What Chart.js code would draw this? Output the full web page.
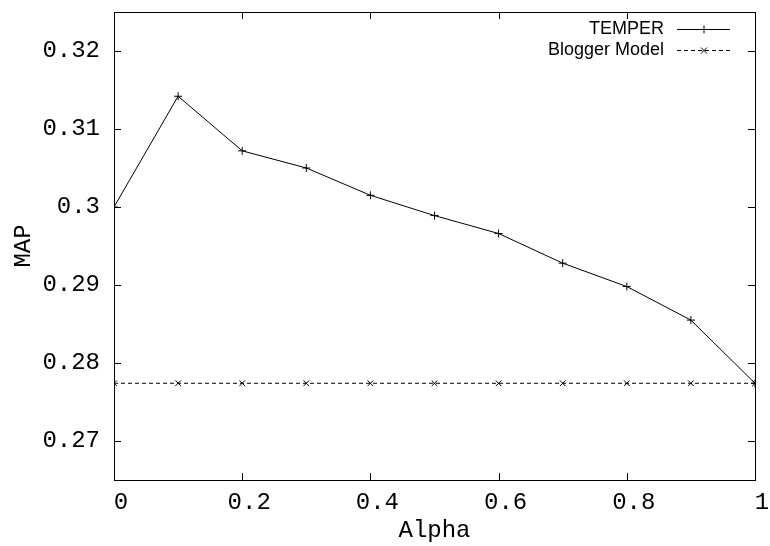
<!DOCTYPE html>
<html>
<head>
<meta charset="utf-8">
<script src="https://cdn.jsdelivr.net/npm/chart.js@4"></script>
<style>
  html, body { margin: 0; padding: 0; background: #fff; }
  #wrap { width: 770px; height: 546px; }
</style>
</head>
<body>
<div id="wrap"><canvas id="grafica" width="770" height="546"></canvas></div>
<script>
// valores
var alphas = [0, 0.1, 0.2, 0.3, 0.4, 0.5, 0.6, 0.7, 0.8, 0.9, 1.0];
var temper = [0.3000, 0.3142, 0.3072, 0.3050, 0.3015, 0.2989, 0.2966, 0.2928, 0.2898, 0.2855, 0.2774];
var blogger = [0.2774, 0.2774, 0.2774, 0.2774, 0.2774, 0.2774, 0.2774, 0.2774, 0.2774, 0.2774, 0.2774];
var xTicks = [0, 0.2, 0.4, 0.6, 0.8, 1];
var yTicks = [0.27, 0.28, 0.29, 0.30, 0.31, 0.32];
var nombres = ["TEMPER", "Blogger Model"];

var fuenteMono = "'Liberation Mono', 'DejaVu Sans Mono', monospace";

function puntos(ys) {
    return alphas.map(function (a, i) { return { x: a, y: ys[i] }; });
}

// marco, ticks hacia adentro y leyenda al estilo gnuplot
var marcoGnuplot = {
    id: "marcoGnuplot",
    afterDraw: function (chart) {
        var ctx = chart.ctx;
        var a = chart.chartArea;
        var sx = chart.scales.x, sy = chart.scales.y;
        var tl = 7;
        ctx.save();
        ctx.setLineDash([]);
        ctx.strokeStyle = "#000";
        ctx.lineWidth = 1;
        ctx.strokeRect(Math.round(a.left) + 0.5, Math.round(a.top) + 0.5,
            Math.round(a.right - a.left), Math.round(a.bottom - a.top));
        ctx.beginPath();
        xTicks.forEach(function (v) {
            var px = Math.round(sx.getPixelForValue(v)) + 0.5;
            ctx.moveTo(px, a.bottom); ctx.lineTo(px, a.bottom - tl);
            ctx.moveTo(px, a.top); ctx.lineTo(px, a.top + tl);
        });
        yTicks.forEach(function (v) {
            var py = Math.round(sy.getPixelForValue(v)) + 0.5;
            ctx.moveTo(a.left, py); ctx.lineTo(a.left + tl, py);
            ctx.moveTo(a.right, py); ctx.lineTo(a.right - tl, py);
        });
        ctx.stroke();

        // leyenda
        ctx.font = "18px 'Liberation Sans', Arial, sans-serif";
        ctx.fillStyle = "#000";
        ctx.textAlign = "right";
        ctx.textBaseline = "middle";
        var filas = [29, 50];
        var x0 = 677, x1 = 730, xm = 704;
        nombres.forEach(function (n, i) {
            var y = filas[i] + 0.5;
            ctx.fillText(n, 664, filas[i]);
            ctx.beginPath();
            ctx.setLineDash(i === 0 ? [] : [4, 3]);
            ctx.moveTo(x0, y); ctx.lineTo(x1, y);
            ctx.stroke();
            ctx.setLineDash([]);
            ctx.beginPath();
            if (i === 0) {
                ctx.moveTo(xm - 4, y); ctx.lineTo(xm + 4, y);
                ctx.moveTo(xm, y - 4); ctx.lineTo(xm, y + 4);
            } else {
                ctx.moveTo(xm - 3, y - 3); ctx.lineTo(xm + 3, y + 3);
                ctx.moveTo(xm - 3, y + 3); ctx.lineTo(xm + 3, y - 3);
            }
            ctx.stroke();
        });
        ctx.restore();
    }
};

new Chart(document.getElementById("grafica"), {
    type: "line",
    data: {
        datasets: [
            {
                label: nombres[0],
                data: puntos(temper),
                borderColor: "#000",
                backgroundColor: "#000",
                borderWidth: 1,
                pointStyle: "cross",
                pointRadius: 4,
                pointBorderWidth: 1,
                pointBorderColor: "#000",
                fill: false,
                tension: 0
            },
            {
                label: nombres[1],
                data: puntos(blogger),
                borderColor: "#000",
                backgroundColor: "#000",
                borderWidth: 1,
                borderDash: [4, 3],
                pointStyle: "crossRot",
                pointRadius: 4,
                pointBorderWidth: 1,
                pointBorderColor: "#000",
                fill: false,
                tension: 0
            }
        ]
    },
    options: {
        responsive: false,
        animation: false,
        devicePixelRatio: 1,
        layout: { padding: { top: 12, right: 15, left: 0, bottom: 0 } },
        plugins: {
            legend: { display: false },
            tooltip: { enabled: false }
        },
        scales: {
            x: {
                type: "linear",
                min: 0,
                max: 1,
                afterBuildTicks: function (s) {
                    s.ticks = xTicks.map(function (v) { return { value: v }; });
                },
                afterFit: function (s) {
                    s.height = 66;
                    s.paddingLeft = 0;
                    s.paddingRight = 0;
                },
                grid: { display: false, drawTicks: false },
                border: { display: false },
                ticks: {
                    color: "#000",
                    padding: 8,
                    labelOffset: 7,
                    maxRotation: 0,
                    font: { family: fuenteMono, size: 24 },
                    callback: function (v) { return String(v); }
                },
                title: {
                    display: true,
                    text: "Alpha",
                    color: "#000",
                    padding: { top: 0, bottom: 1 },
                    font: { family: fuenteMono, size: 24 }
                }
            },
            y: {
                type: "linear",
                min: 0.265,
                max: 0.325,
                afterBuildTicks: function (s) {
                    s.ticks = yTicks.map(function (v) { return { value: v }; });
                },
                afterFit: function (s) {
                    s.width = 114;
                    s.paddingTop = 0;
                    s.paddingBottom = 0;
                },
                grid: { display: false, drawTicks: false },
                border: { display: false },
                ticks: {
                    color: "#000",
                    padding: 14,
                    font: { family: fuenteMono, size: 24 },
                    callback: function (v) { return String(Math.round(v * 100) / 100); }
                },
                title: {
                    display: true,
                    text: "MAP",
                    color: "#000",
                    padding: { top: 9, bottom: 0 },
                    font: { family: fuenteMono, size: 24 }
                }
            }
        }
    },
    plugins: [marcoGnuplot]
});
</script>
</body>
</html>
